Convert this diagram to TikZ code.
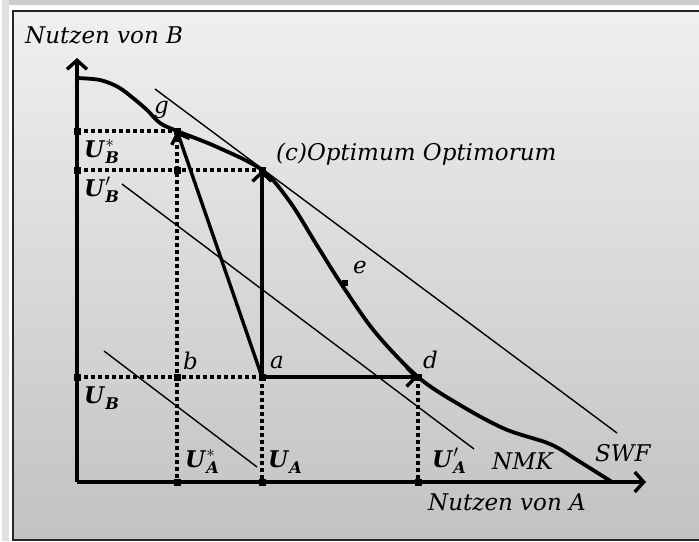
\documentclass[tikz,border=0pt]{standalone}
\usepackage{amsmath}
\usepackage{fontspec}
\setmainfont{DejaVu Serif}
\usetikzlibrary{arrows.meta}
\newcommand{\Ulab}[2]{\textbf{\textit{U}}$^{#2}_{\textbf{\textit{#1}}}$}

\begin{document}
\begin{tikzpicture}[x=1pt, y=-1pt,
    axis/.style={line width=3.4pt, -{Straight Barb[length=9pt,width=20pt]}},
    move/.style={line width=3.4pt, -{Straight Barb[length=9pt,width=19pt]}},
    guide/.style={line width=3.6pt, dash pattern=on 3.6pt off 3.4pt},
    iso/.style={line width=1.4pt},
    nmk/.style={line width=3.8pt, line join=round},
    sq/.style={fill=black, inner sep=0pt, minimum size=7pt},
    lab/.style={font=\fontsize{23}{27}\selectfont\itshape, anchor=base west, inner sep=0pt},
    ulab/.style={font=\fontsize{23}{27}\selectfont, anchor=base west, inner sep=0pt}
]
\useasboundingbox (0,0) rectangle (699,541);
\fill[white] (0,0) rectangle (699,541);
\fill[black!20] (2,0) rectangle (699,5);
\fill[black!12] (2,0) rectangle (9,541);
\shade[top color=black!6, bottom color=black!24] (13,11) rectangle (712,540);
\draw[line width=2pt, black!85] (13,11) rectangle (712,540);

% points
\coordinate (O) at (77,482);
\coordinate (ytop) at (77,58);
\coordinate (xend) at (646,482);
\coordinate (g) at (177,131);
\coordinate (c) at (262,170);
\coordinate (a) at (262,377);
\coordinate (b) at (177,377);
\coordinate (d) at (418,377);
\coordinate (gc) at (177,170);
\coordinate (UBs) at (77,131);
\coordinate (UBp) at (77,170);
\coordinate (UB) at (77,377);
\coordinate (UAs) at (177,482);
\coordinate (UA) at (262,482);
\coordinate (UAp) at (418,482);

% social welfare lines
\coordinate (swf1) at (155,89);
\coordinate (swf2) at (617,433);
\coordinate (mid1) at (122,184);
\coordinate (mid2) at (474,449);
\coordinate (low1) at (104,351);
\coordinate (low2) at (257,467);
\draw[iso] (swf1) -- (swf2);
\draw[iso] (mid1) -- (mid2);
\draw[iso] (low1) -- (low2);

% dotted guides
\draw[guide] (UBs) -- (g);
\draw[guide] (UBp) -- (c);
\draw[guide] (UB) -- (a);
\draw[guide] (g) -- (UAs);
\draw[guide] (a) -- (UA);
\draw[guide] (d) -- (UAp);

% frontier
\draw[nmk] plot[smooth, tension=0.55] coordinates {(77,78) (100,80) (118,87) (133,98) (147,110) (160,123) (177,131) (217,147) (262,170) (290,202) (318,247) (342,285) (375,332) (418,377) (460,405) (505,429) (550,444) (577,460) (612,482)};

% axes
\draw[axis] (O) -- (ytop);
\draw[axis] (O) -- (xend);

% moves from a
\draw[move] (a) -- (g);
\draw[move] (a) -- (c);
\draw[move] (a) -- (d);

% markers
\foreach \p in {g,c,a,b,d,gc,UBs,UBp,UB,UAs,UA,UAp}
  \node[sq] at (\p) {};
\node[sq, minimum size=6pt] (e) at (345,283) {};

% labels
\node[lab] (yl) at (25,43) {Nutzen von B};
\node[lab] (xl) at (428,510) {Nutzen von A};
\node[lab] (cl) at (276,160) {(c)Optimum Optimorum};
\node[lab] (gl) at (154,113) {g};
\node[lab] (bl) at (183,369) {b};
\node[lab] (al) at (270,368) {a};
\node[lab] (dl) at (423,368) {d};
\node[lab] (el) at (353,273) {e};
\node[lab] (nl) at (492,469) {NMK};
\node[lab] (sl) at (595,461) {SWF};
\node[ulab] (ubs) at (84,157) {\Ulab{B}{*}};
\node[ulab] (ubp) at (84,196) {\Ulab{B}{\prime}};
\node[ulab] (ub) at (84,403) {\Ulab{B}{}};
\node[ulab] (uas) at (185,467) {\Ulab{A}{*}};
\node[ulab] (ua) at (268,467) {\Ulab{A}{}};
\node[ulab] (uap) at (432,467) {\Ulab{A}{\prime}};
\end{tikzpicture}
\end{document}
